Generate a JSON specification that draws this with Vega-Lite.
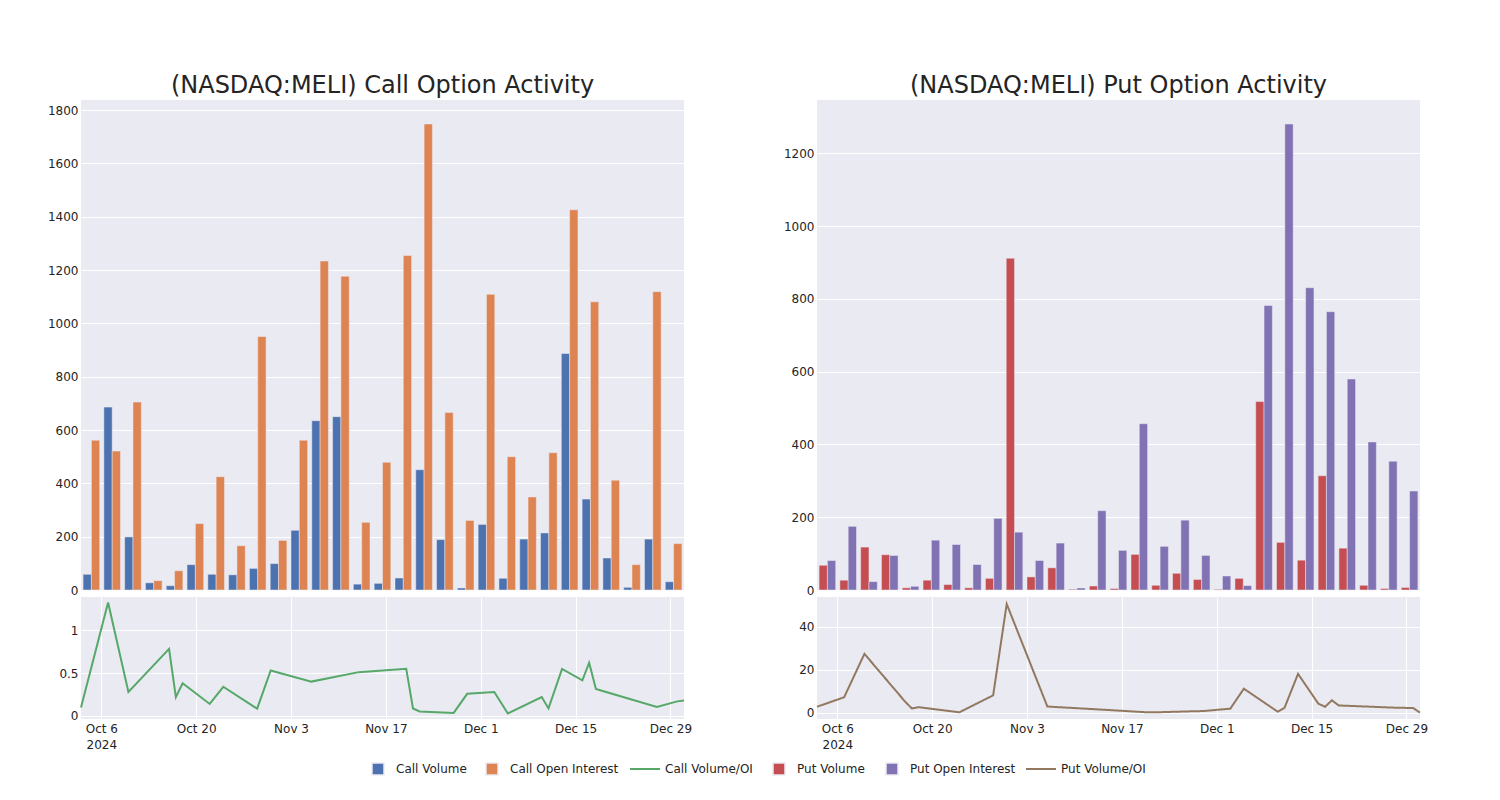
{
  "$schema": "https://vega.github.io/schema/vega-lite/v6.json",
  "background": "white",
  "padding": {"left": 47, "top": 74, "right": 5, "bottom": 5},
  "datasets": {
    "opt": [
      {"date": "2024-10-03", "Call Volume": 59, "Call Open Interest": 562, "Call Volume/OI": 0.1, "Put Volume": 68, "Put Open Interest": 81, "Put Volume/OI": 2.9},
      {"date": "2024-10-07", "Call Volume": 686, "Call Open Interest": 521, "Call Volume/OI": 1.32, "Put Volume": 27, "Put Open Interest": 175, "Put Volume/OI": 7.3},
      {"date": "2024-10-10", "Call Volume": 199, "Call Open Interest": 705, "Call Volume/OI": 0.28, "Put Volume": 118, "Put Open Interest": 23, "Put Volume/OI": 27.5},
      {"date": "2024-10-16", "Call Volume": 27, "Call Open Interest": 35, "Call Volume/OI": 0.78, "Put Volume": 97, "Put Open Interest": 95, "Put Volume/OI": 5.3},
      {"date": "2024-10-17", "Call Volume": 16, "Call Open Interest": 72, "Call Volume/OI": 0.22, "Put Volume": 6, "Put Open Interest": 10, "Put Volume/OI": 2.1},
      {"date": "2024-10-18", "Call Volume": 95, "Call Open Interest": 249, "Call Volume/OI": 0.38, "Put Volume": 27, "Put Open Interest": 137, "Put Volume/OI": 2.7},
      {"date": "2024-10-22", "Call Volume": 59, "Call Open Interest": 425, "Call Volume/OI": 0.14, "Put Volume": 15, "Put Open Interest": 125, "Put Volume/OI": 1.1},
      {"date": "2024-10-24", "Call Volume": 57, "Call Open Interest": 166, "Call Volume/OI": 0.34, "Put Volume": 6, "Put Open Interest": 70, "Put Volume/OI": 0.3},
      {"date": "2024-10-29", "Call Volume": 81, "Call Open Interest": 951, "Call Volume/OI": 0.085, "Put Volume": 32, "Put Open Interest": 197, "Put Volume/OI": 8.2},
      {"date": "2024-10-31", "Call Volume": 99, "Call Open Interest": 186, "Call Volume/OI": 0.53, "Put Volume": 912, "Put Open Interest": 159, "Put Volume/OI": 50.7},
      {"date": "2024-11-06", "Call Volume": 224, "Call Open Interest": 562, "Call Volume/OI": 0.4, "Put Volume": 36, "Put Open Interest": 81, "Put Volume/OI": 3.0},
      {"date": "2024-11-13", "Call Volume": 635, "Call Open Interest": 1234, "Call Volume/OI": 0.51, "Put Volume": 61, "Put Open Interest": 129, "Put Volume/OI": 1.75},
      {"date": "2024-11-20", "Call Volume": 650, "Call Open Interest": 1177, "Call Volume/OI": 0.55, "Put Volume": 2, "Put Open Interest": 5.5, "Put Volume/OI": 0.45},
      {"date": "2024-11-21", "Call Volume": 22, "Call Open Interest": 254, "Call Volume/OI": 0.087, "Put Volume": 11, "Put Open Interest": 218, "Put Volume/OI": 0.3},
      {"date": "2024-11-22", "Call Volume": 25, "Call Open Interest": 479, "Call Volume/OI": 0.052, "Put Volume": 4, "Put Open Interest": 109, "Put Volume/OI": 0.32},
      {"date": "2024-11-27", "Call Volume": 45, "Call Open Interest": 1255, "Call Volume/OI": 0.036, "Put Volume": 98, "Put Open Interest": 457, "Put Volume/OI": 0.75},
      {"date": "2024-11-29", "Call Volume": 451, "Call Open Interest": 1748, "Call Volume/OI": 0.258, "Put Volume": 13, "Put Open Interest": 120, "Put Volume/OI": 0.9},
      {"date": "2024-12-03", "Call Volume": 189, "Call Open Interest": 666, "Call Volume/OI": 0.28, "Put Volume": 46, "Put Open Interest": 192, "Put Volume/OI": 2.0},
      {"date": "2024-12-05", "Call Volume": 7.5, "Call Open Interest": 261, "Call Volume/OI": 0.029, "Put Volume": 29, "Put Open Interest": 95, "Put Volume/OI": 11.3},
      {"date": "2024-12-10", "Call Volume": 246, "Call Open Interest": 1109, "Call Volume/OI": 0.22, "Put Volume": 2, "Put Open Interest": 38.5, "Put Volume/OI": 0.6},
      {"date": "2024-12-11", "Call Volume": 44, "Call Open Interest": 500, "Call Volume/OI": 0.088, "Put Volume": 32, "Put Open Interest": 12, "Put Volume/OI": 2.4},
      {"date": "2024-12-13", "Call Volume": 191, "Call Open Interest": 349, "Call Volume/OI": 0.547, "Put Volume": 518, "Put Open Interest": 782, "Put Volume/OI": 18.2},
      {"date": "2024-12-16", "Call Volume": 214, "Call Open Interest": 515, "Call Volume/OI": 0.415, "Put Volume": 131, "Put Open Interest": 1281, "Put Volume/OI": 4.3},
      {"date": "2024-12-17", "Call Volume": 887, "Call Open Interest": 1426, "Call Volume/OI": 0.62, "Put Volume": 82, "Put Open Interest": 831, "Put Volume/OI": 2.9},
      {"date": "2024-12-18", "Call Volume": 341, "Call Open Interest": 1081, "Call Volume/OI": 0.315, "Put Volume": 314, "Put Open Interest": 765, "Put Volume/OI": 5.9},
      {"date": "2024-12-19", "Call Volume": 120, "Call Open Interest": 412, "Call Volume/OI": 0.29, "Put Volume": 115, "Put Open Interest": 580, "Put Volume/OI": 3.5},
      {"date": "2024-12-27", "Call Volume": 10, "Call Open Interest": 95, "Call Volume/OI": 0.105, "Put Volume": 13, "Put Open Interest": 407, "Put Volume/OI": 2.5},
      {"date": "2024-12-30", "Call Volume": 191, "Call Open Interest": 1119, "Call Volume/OI": 0.17, "Put Volume": 4, "Put Open Interest": 354, "Put Volume/OI": 2.3},
      {"date": "2024-12-31", "Call Volume": 31, "Call Open Interest": 174, "Call Volume/OI": 0.18, "Put Volume": 7, "Put Open Interest": 272, "Put Volume/OI": 0.15}
    ]
  },
  "data": {"name": "opt"},
  "config": {
    "font": "DejaVu Sans",
    "view": {"stroke": null, "fill": "#EAEAF2"},
    "axis": {"domain": false, "ticks": false, "gridColor": "#FFFFFF", "gridWidth": 1, "labelFont": "DejaVu Sans", "labelFontSize": 12, "labelColor": "#242424", "labelPadding": 3, "zindex": 0},
    "legend": {"orient": "none", "direction": "horizontal", "title": null, "labelFont": "DejaVu Sans", "labelFontSize": 12, "labelColor": "#242424", "padding": 0, "symbolOpacity": 1},
    "title": {"font": "DejaVu Sans", "fontSize": 24, "fontWeight": "normal", "color": "#242424", "anchor": "middle", "frame": "group", "baseline": "alphabetic", "offset": 2}
  },
  "resolve": {"scale": {"color": "shared", "fill": "shared", "stroke": "shared", "strokeDash": "shared", "xOffset": "independent"}},
  "spacing": 91,
  "hconcat": [
    {
      "bounds": "flush",
      "spacing": 7,
      "resolve": {"scale": {"color": "shared", "fill": "shared", "stroke": "shared", "strokeDash": "shared", "xOffset": "independent"}},
      "vconcat": [
        {
          "title": "(NASDAQ:MELI) Call Option Activity",
          "width": 603,
          "height": 490,
          "transform": [{"fold": ["Call Volume", "Call Open Interest"], "as": ["series", "value"]}],
          "mark": {"type": "bar", "stroke": "#EAEAF2", "strokeWidth": 0.5},
          "encoding": {
            "x": {"field": "date", "type": "ordinal", "sort": null, "scale": {"paddingInner": 0.2, "paddingOuter": 0.1},
              "axis": {"labels": false, "ticks": false, "domain": false, "grid": true, "bandPosition": 0.5, "title": null,
                "values": ["2024-10-03", "2024-10-18", "2024-11-06", "2024-11-27", "2024-12-11", "2024-12-19"]}},
            "xOffset": {"field": "series", "sort": ["Call Volume", "Call Open Interest"], "scale": {"paddingInner": 0, "paddingOuter": 0}},
            "y": {"field": "value", "type": "quantitative", "scale": {"domain": [0, 1838], "nice": false},
              "axis": {"title": null, "format": "d", "values": [0, 200, 400, 600, 800, 1000, 1200, 1400, 1600, 1800]}},
            "fill": {"field": "series", "type": "nominal",
              "scale": {"domain": ["Call Volume", "Call Open Interest"], "range": ["#4C72B0", "#DD8452"]},
              "legend": {"legendX": 290, "legendY": 662, "symbolType": "square", "symbolSize": 144, "labelOffset": 11, "columnPadding": 16}}
          }
        },
        {
          "width": 603,
          "height": 122,
          "transform": [{"fold": ["Call Volume/OI"], "as": ["series", "value"]}],
          "mark": {"type": "line", "strokeWidth": 2},
          "encoding": {
            "x": {"field": "date", "type": "temporal", "scale": {"type": "utc", "domain": [1727913600000, 1735603200000]},
              "axis": {"title": null, "grid": true, "labelFlush": false, "labelOverlap": false, "labelBound": false, "labelLineHeight": 16, "labelPadding": 4,
                "values": [1728172800000, 1729382400000, 1730592000000, 1731801600000, 1733011200000, 1734220800000, 1735430400000],
                "labelExpr": "utcFormat(datum.value, '%b %-d') == 'Oct 6' ? ['Oct 6', '2024'] : utcFormat(datum.value, '%b %-d')"}},
            "y": {"field": "value", "type": "quantitative", "scale": {"domain": [-0.035, 1.384], "nice": false, "zero": false},
              "axis": {"title": null, "format": "~f", "values": [0, 0.5, 1]}},
            "stroke": {"field": "series", "type": "nominal",
              "scale": {"domain": ["Call Volume/OI"], "range": ["#55A868"]},
              "legend": {"legendX": 548, "legendY": 653, "symbolType": "stroke", "symbolSize": 900, "symbolStrokeWidth": 2, "labelOffset": 4}}
          }
        }
      ]
    },
    {
      "bounds": "flush",
      "spacing": 7,
      "resolve": {"scale": {"color": "shared", "fill": "shared", "stroke": "shared", "strokeDash": "shared", "xOffset": "independent"}},
      "vconcat": [
        {
          "title": "(NASDAQ:MELI) Put Option Activity",
          "width": 603,
          "height": 490,
          "transform": [{"fold": ["Put Volume", "Put Open Interest"], "as": ["series", "value"]}],
          "mark": {"type": "bar", "stroke": "#EAEAF2", "strokeWidth": 0.5},
          "encoding": {
            "x": {"field": "date", "type": "ordinal", "sort": null, "scale": {"paddingInner": 0.2, "paddingOuter": 0.1},
              "axis": {"labels": false, "ticks": false, "domain": false, "grid": true, "bandPosition": 0.5, "title": null,
                "values": ["2024-10-03", "2024-10-18", "2024-11-06", "2024-11-27", "2024-12-11", "2024-12-19"]}},
            "xOffset": {"field": "series", "sort": ["Put Volume", "Put Open Interest"], "scale": {"paddingInner": 0, "paddingOuter": 0}},
            "y": {"field": "value", "type": "quantitative", "scale": {"domain": [0, 1347], "nice": false},
              "axis": {"title": null, "format": "d", "values": [0, 200, 400, 600, 800, 1000, 1200]}},
            "color": {"field": "series", "type": "nominal",
              "scale": {"domain": ["Put Volume", "Put Open Interest"], "range": ["#C44E52", "#8172B3"]},
              "legend": {"legendX": 691, "legendY": 662, "symbolType": "square", "symbolSize": 144, "labelOffset": 11, "columnPadding": 18}}
          }
        },
        {
          "width": 603,
          "height": 122,
          "transform": [{"fold": ["Put Volume/OI"], "as": ["series", "value"]}],
          "mark": {"type": "line", "strokeWidth": 2, "stroke": "#937860"},
          "encoding": {
            "x": {"field": "date", "type": "temporal", "scale": {"type": "utc", "domain": [1727913600000, 1735603200000]},
              "axis": {"title": null, "grid": true, "labelFlush": false, "labelOverlap": false, "labelBound": false, "labelLineHeight": 16, "labelPadding": 4,
                "values": [1728172800000, 1729382400000, 1730592000000, 1731801600000, 1733011200000, 1734220800000, 1735430400000],
                "labelExpr": "utcFormat(datum.value, '%b %-d') == 'Oct 6' ? ['Oct 6', '2024'] : utcFormat(datum.value, '%b %-d')"}},
            "y": {"field": "value", "type": "quantitative", "scale": {"domain": [-2.8, 53.95], "nice": false, "zero": false},
              "axis": {"title": null, "format": "~f", "values": [0, 20, 40]}},
            "strokeDash": {"field": "series", "type": "nominal",
              "scale": {"domain": ["Put Volume/OI"], "range": [[1, 0]]},
              "legend": {"legendX": 944, "legendY": 653, "symbolType": "stroke", "symbolSize": 900, "symbolStrokeWidth": 2, "symbolStrokeColor": "#937860", "labelOffset": 4}}
          }
        }
      ]
    }
  ]
}
